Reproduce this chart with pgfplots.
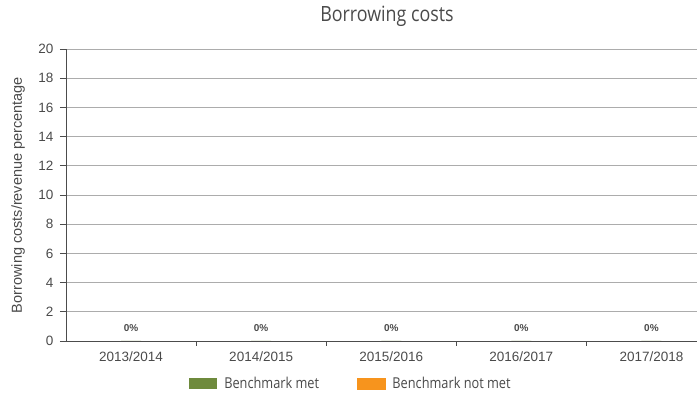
\documentclass[border=0pt]{standalone}
\usepackage{fontspec}
\setmainfont{Liberation Sans}
\newfontfamily\condfont{Open Sans}[FakeStretch=0.85]
\usepackage{pgfplots}
\pgfplotsset{compat=1.18}
\definecolor{metgreen}{HTML}{6E8A3C}
\definecolor{notmet}{HTML}{F7941D}
\definecolor{txtgray}{HTML}{4A4A4A}
\begin{document}
\begin{tikzpicture}[x=1pt,y=1pt]
\useasboundingbox (0,0) rectangle (697,412);
\begin{axis}[
  at={(66pt,71pt)}, anchor=south west,
  scale only axis, width=631pt, height=292pt,
  xmin=-0.5, xmax=4.35, ymin=0, ymax=20,
  axis x line*=bottom, axis y line*=left,
  axis line style={gray!60!black, -, line width=0.8pt},
  ytick={0,2,...,20},
  ymajorgrids, grid style={gray!65, line width=0.8pt},
  xtick={0,1,2,3,4},
  xticklabels={2013/2014,2014/2015,2015/2016,2016/2017,2017/2018},
  major x tick style={draw=none},
  minor xtick={0.5,1.5,2.5,3.5},
  minor tick length=5pt, major tick length=6pt,
  tick align=outside,
  tick style={gray!60!black, line width=0.8pt},
  /pgf/number format/assume math mode=true,
  ticklabel style={font=\fontsize{13.5}{13.5}\selectfont, text=txtgray},
  yticklabel style={xshift=-3pt},
  xticklabel style={yshift=-1pt},
  ylabel={Borrowing costs/revenue percentage},
  ylabel style={at={(axis description cs:-0.076,0.5)}, anchor=center, font=\fontsize{14.5}{14.5}\selectfont, text=txtgray},
  title={\condfont Borrowing costs},
  title style={at={(axis description cs:0.5087,1.092)}, anchor=center, font=\fontsize{21}{21}\selectfont, text=txtgray},
  legend style={at={(axis description cs:0.4516,-0.147)}, anchor=center, draw=none, fill=none,
    legend columns=2, font=\condfont\fontsize{15}{15}\selectfont, text=txtgray,
    /tikz/every odd column/.append style={column sep=5pt},
    /tikz/every even column/.append style={column sep=36pt}},
  clip=false,
]
\addplot[ybar, bar width=20pt, fill=metgreen, draw=none,
  nodes near coords={\textbf{0\%}},
  nodes near coords style={font=\fontsize{10}{10}\selectfont, text=txtgray, anchor=center, yshift=13pt},
  legend image code/.code={\fill[metgreen] (0pt,-5.5pt) rectangle (28pt,5.5pt);}]
  coordinates {(0,0) (1,0) (2,0) (3,0) (4,0)};
\addlegendentry{Benchmark met}
\addlegendimage{legend image code/.code={\fill[notmet] (0pt,-5.5pt) rectangle (28pt,5.5pt);}}
\addlegendentry{Benchmark not met}
\end{axis}
\end{tikzpicture}
\end{document}
